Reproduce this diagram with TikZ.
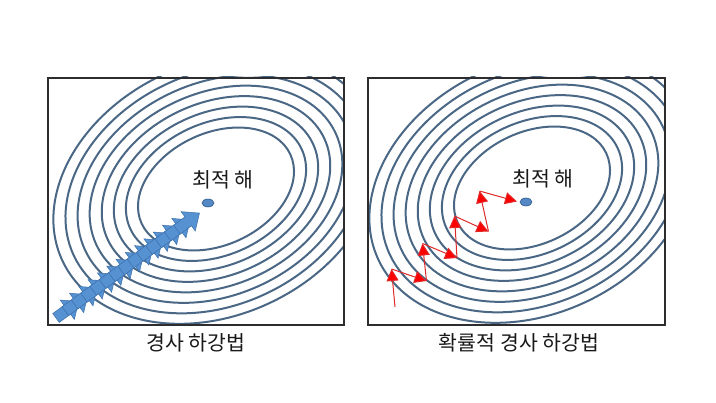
\documentclass[tikz,border=0pt]{standalone}
\usepackage{fontspec}
\newfontfamily\kr{Noto Sans CJK KR}
\usetikzlibrary{arrows.meta,shapes.geometric}
\definecolor{contour}{RGB}{74,104,134}
\definecolor{boxline}{RGB}{45,45,48}
\definecolor{bfill}{RGB}{86,146,210}
\definecolor{bedge}{RGB}{60,110,170}
\definecolor{dotfill}{RGB}{84,136,196}
\definecolor{dotedge}{RGB}{52,92,140}
\definecolor{redline}{RGB}{225,40,40}
\begin{document}
\begin{tikzpicture}[x=1pt,y=-1pt,
  contourline/.style={draw=contour,line width=2pt},
  panel/.style={draw=boxline,line width=2pt},
  optdot/.style={ellipse,fill=dotfill,draw=dotedge,line width=0.6pt,minimum width=12pt,minimum height=8pt,inner sep=0pt},
  optlabel/.style={font=\kr\fontsize{20.5}{24}\selectfont,text=black!90,inner sep=0pt},
  caption/.style={font=\kr\fontsize{20.5}{24}\selectfont,text=black!90,inner sep=0pt},
  blockarrow/.style={fill=bfill,draw=bedge,line width=0.5pt,line join=miter},
  sgdarrow/.style={draw=redline,line width=1pt,-{Triangle[length=12pt,width=12pt,fill=red]}}
]
\useasboundingbox (0,0) rectangle (716,403);
\fill[white] (0,0) rectangle (716,403);

% ---------- left panel ----------
\begin{scope}
\clip (47,77) rectangle (343,324);
\foreach \k in {0,...,7}{
  \draw[contourline,rotate around={25:(216,189)}] (216,189) ellipse [x radius={(82+12.5*\k)*1pt}, y radius={(56+10*\k)*1pt}];
}
\end{scope}
\node[panel,minimum width=296pt,minimum height=247pt,inner sep=0pt,anchor=north west] (leftbox) at (47,77) {};

\foreach \i [evaluate=\i as \x using 56+9.3*\i, evaluate=\i as \y using 318-6.8*\i] in {0,...,13}{
  \begin{scope}[shift={(\x,\y)},rotate=36.2]
    \filldraw[blockarrow] (0,-5.5) -- (14,-5.5) -- (14,-12) -- (28,0) -- (14,12) -- (14,5.5) -- (0,5.5) -- cycle;
  \end{scope}
}
\node[optdot] (opt1) at (208,203) {};
\node[optlabel] (lab1) at (223,180) {최적 해};
\node[caption] (cap1) at (196,343) {경사 하강법};

% ---------- right panel ----------
\begin{scope}
\clip (367,77) rectangle (664,324);
\foreach \k in {0,...,7}{
  \draw[contourline,rotate around={25:(532,188)}] (532,188) ellipse [x radius={(82+12.5*\k)*1pt}, y radius={(56+10*\k)*1pt}];
}
\end{scope}
\node[panel,minimum width=297pt,minimum height=247pt,inner sep=0pt,anchor=north west] (rightbox) at (367,77) {};

\node[optdot] (opt2) at (526,202) {};
\node[optlabel] (lab2) at (543,179) {최적 해};
\node[caption] (cap2) at (519,343) {확률적 경사 하강법};

\coordinate (r0) at (395,307);
\coordinate (r1) at (391.5,269);
\coordinate (r2) at (426.5,281);
\coordinate (r3) at (422.5,243.5);
\coordinate (r4) at (457,258);
\coordinate (r5) at (454.5,216);
\coordinate (r6) at (488.5,231.5);
\coordinate (r7) at (479.5,191);
\coordinate (r8) at (517,201.5);
\draw[sgdarrow] (r0) -- (r1);
\draw[sgdarrow] (r1) -- (r2);
\draw[sgdarrow] (r2) -- (r3);
\draw[sgdarrow] (r3) -- (r4);
\draw[sgdarrow] (r4) -- (r5);
\draw[sgdarrow] (r5) -- (r6);
\draw[sgdarrow] (r6) -- (r7);
\draw[sgdarrow] (r7) -- (r8);
\end{tikzpicture}
\end{document}
